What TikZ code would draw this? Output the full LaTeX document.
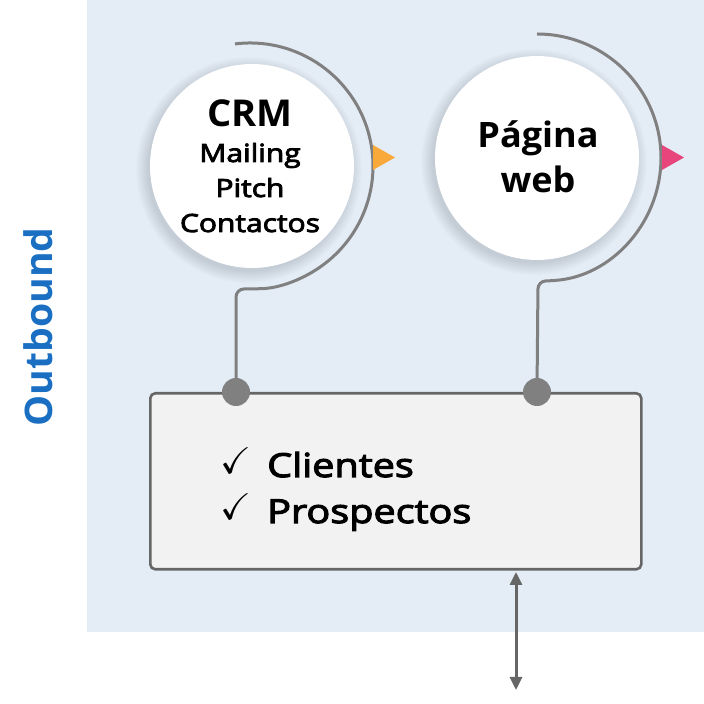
\documentclass[tikz,border=0pt]{standalone}
\usepackage{fontspec}
\usepackage{amssymb}
\usepackage{graphicx}
\usetikzlibrary{arrows.meta}
\setmainfont{Open Sans}
\newfontfamily\medf{Open Sans}[FakeBold=3.5,FakeStretch=1.2]
\newfontfamily\boldf{Open Sans}[FakeStretch=1.03]
\definecolor{bgblue}{HTML}{E4ECF6}
\definecolor{lgray}{HTML}{808080}
\definecolor{bgray}{HTML}{666666}
\definecolor{boxfill}{HTML}{F2F2F2}
\definecolor{obblue}{HTML}{1A6FC2}
\definecolor{orangetri}{HTML}{F9A83A}
\definecolor{pinktri}{HTML}{E8457C}
\tikzset{
  bubble/.style={circle,fill=white,minimum size=204pt,inner sep=0pt},
  conn/.style={draw=lgray,line width=3pt,rounded corners=8pt},
  dotc/.style={circle,fill=lgray,minimum size=28pt,inner sep=0pt},
  listbox/.style={draw=bgray,fill=boxfill,line width=2.6pt,rounded corners=5pt},
  bigt/.style={font=\boldf\bfseries\fontsize{34}{36}\selectfont,inner sep=0pt,anchor=base},
  smallt/.style={font=\medf\fontsize{25}{27}\selectfont,inner sep=0pt,anchor=base},
  listt/.style={font=\medf\fontsize{33}{36}\selectfont,inner sep=0pt,anchor=base west},
  checkt/.style={inner sep=0pt,anchor=base west},
}
\begin{document}
\begin{tikzpicture}[x=1pt,y=1pt]
\useasboundingbox (0,0) rectangle (704,704);
\fill[bgblue] (87,72) rectangle (704,704);
\node[font=\boldf\bfseries\fontsize{38}{40}\selectfont,text=obblue,rotate=90,inner sep=0pt] (ob) at (38,377) {Outbound};
% shadows
\foreach \i in {1,...,8}{
  \fill[black,opacity=0.014] (249,534) circle[radius=100+\i*1.6];
  \fill[black,opacity=0.014] (534,542) circle[radius=100+\i*1.6];
}
\node[bubble] (c1) at (252,538) {};
\node[bubble] (c2) at (537,546) {};
% box
\node[listbox,minimum width=491pt,minimum height=176pt,anchor=north west] (box) at (149,312) {};
% dots coordinates
\coordinate (d1) at (236,312);
\coordinate (d2) at (537,312);
% arcs
\draw[conn] (250,538) ++(97:123) arc[start angle=97,end angle=-88,radius=123] -- (236,415) -- (d1);
\draw[conn] (537,546) ++(90:124) arc[start angle=90,end angle=-82,radius=124] -- (538,423) -- (d2);
\node[dotc] (p1) at (d1) {};
\node[dotc] (p2) at (d2) {};
% triangles
\fill[orangetri] (373,559) -- (373,534) -- (395,546.5) -- cycle;
\fill[pinktri] (662,559) -- (662,534) -- (684,546.5) -- cycle;
% texts
\node[bigt,font=\boldf\bfseries\fontsize{37}{38}\selectfont] (crm) at (250,577) {CRM};
\node[smallt] (mail) at (250,542) {Mailing};
\node[smallt] (pitch) at (250,507) {Pitch};
\node[smallt] (cont) at (250,472) {Contactos};
\node[bigt,font=\boldf\bfseries\fontsize{35}{36}\selectfont] (pag) at (538,556) {Página};
\node[bigt,font=\boldf\bfseries\fontsize{35}{36}\selectfont] (web) at (538,511) {web};
\node[checkt] (ck1) at (220,230) {\resizebox{31pt}{!}{$\checkmark$}};
\node[checkt] (ck2) at (220,184) {\resizebox{31pt}{!}{$\checkmark$}};
\node[listt] (cli) at (267,227) {Clientes};
\node[listt] (pro) at (267,181) {Prospectos};
% double arrow
\coordinate (a1) at (516,132);
\coordinate (a2) at (516,14);
\draw[bgray,line width=3pt,{Triangle[width=12pt,length=13pt]}-{Triangle[width=12pt,length=13pt]}] (a1) -- (a2);
\end{tikzpicture}
\end{document}
